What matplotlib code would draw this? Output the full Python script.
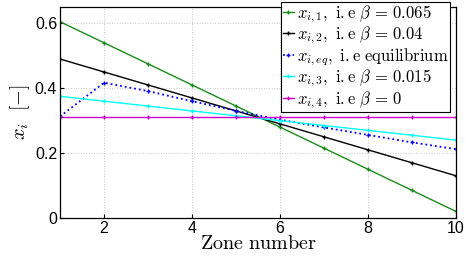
import matplotlib
matplotlib.use('Agg')
import matplotlib.pyplot as plt

# Data
zones = [1, 2, 3, 4, 5, 6, 7, 8, 9, 10]
x_i1 = [0.605, 0.54, 0.475, 0.41, 0.345, 0.28, 0.215, 0.15, 0.085, 0.02]
x_i2 = [0.49, 0.45, 0.41, 0.37, 0.33, 0.29, 0.25, 0.21, 0.17, 0.13]
x_ieq = [0.313, 0.417, 0.391, 0.36, 0.33, 0.303, 0.279, 0.256, 0.233, 0.212]
x_i3 = [0.375, 0.36, 0.345, 0.33, 0.315, 0.30, 0.285, 0.27, 0.255, 0.24]
x_i4 = [0.31, 0.31, 0.31, 0.31, 0.31, 0.31, 0.31, 0.31, 0.31, 0.31]

labels = [r'$x_{i,1},\ \mathrm{i.e}\ \beta\,=\,0.065$',
          r'$x_{i,2},\ \mathrm{i.e}\ \beta\,=\,0.04$',
          r'$x_{i,eq},\ \mathrm{i.e\ equilibrium}$',
          r'$x_{i,3},\ \mathrm{i.e}\ \beta\,=\,0.015$',
          r'$x_{i,4},\ \mathrm{i.e}\ \beta\,=\,0$']
series = [x_i1, x_i2, x_ieq, x_i3, x_i4]
colors = ['#1a8c1a', '#000000', '#0000ff', '#00ffff', '#cc00cc']
styles = ['-', '-', ':', '-', '-']

plt.rcParams['mathtext.fontset'] = 'cm'
plt.rcParams['font.family'] = 'Liberation Sans'

fig = plt.figure(figsize=(4.66, 2.61), dpi=100)
ax = fig.add_axes([0.1288, 0.1648, 0.85, 0.808])

for d, lab, c, ls in zip(series, labels, colors, styles):
    lw = 1.3 if ls == ':' else 1.0
    ax.plot(zones, d, linestyle=ls, color=c, marker='+', markersize=3.5,
            markeredgewidth=1.0, linewidth=lw, label=lab)

ax.set_xlim(1, 10)
ax.set_ylim(0, 0.65)
ax.set_xticks([2, 4, 6, 8, 10])
ax.set_yticks([0, 0.2, 0.4, 0.6])
ax.set_yticklabels(['0', '0.2', '0.4', '0.6'])
ax.tick_params(labelsize=11.5, direction='in', length=3, width=0.8, pad=2)
ax.grid(True, linestyle=':', color='#c8c8c8', linewidth=0.7)
for s in ax.spines.values():
    s.set_linewidth(0.9)

ax.set_xlabel(r'$\mathrm{Zone\ number}$', fontsize=14.5, labelpad=-1)
ax.set_ylabel(r'$x_i\ \ [\mathrm{-}]$', fontsize=14.5, labelpad=2)

leg = ax.legend(loc='upper right', bbox_to_anchor=(0.985, 1.025), borderaxespad=0,
                fancybox=False, framealpha=1, edgecolor='black', fontsize=12,
                handlelength=0.7, handletextpad=0.15, labelspacing=0.0,
                borderpad=0.1)
leg.get_frame().set_linewidth(0.8)

fig.savefig('out.png', dpi=100)
